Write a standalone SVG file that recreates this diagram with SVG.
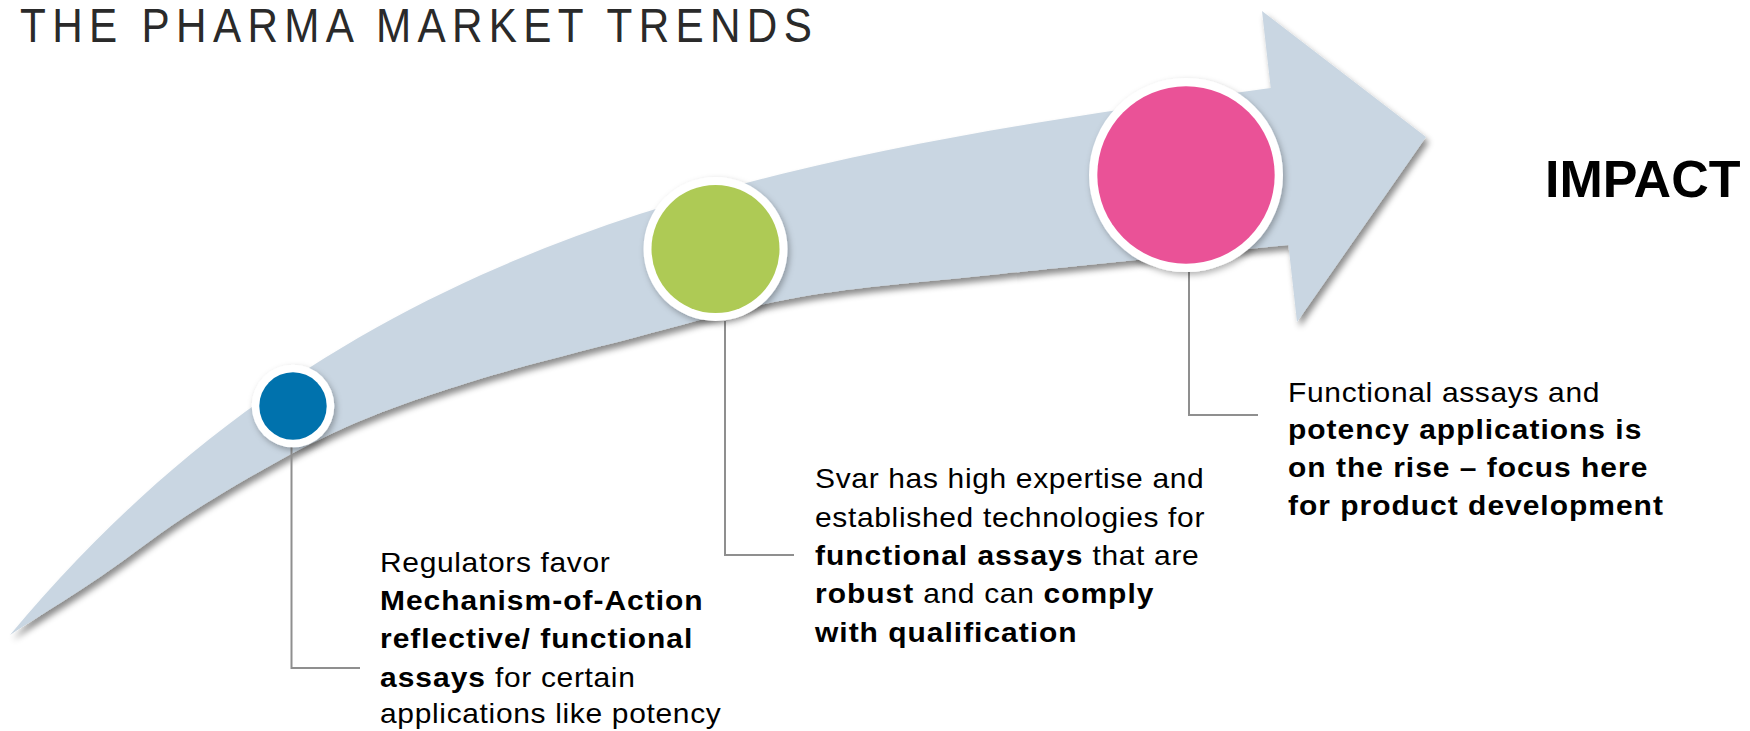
<svg xmlns="http://www.w3.org/2000/svg" width="1750" height="731" viewBox="0 0 1750 731">
<defs>
<style>
.title{font-family:"Liberation Sans",Arial,sans-serif;font-size:48px;fill:#2a2a2a;letter-spacing:7.2px}
.impact{font-family:"Liberation Sans",Arial,sans-serif;font-size:52px;font-weight:bold;fill:#000}
.body{font-family:"Liberation Sans",Arial,sans-serif;font-size:27px;fill:#000;letter-spacing:0.6px}
.b{font-weight:bold;letter-spacing:0.9px}
.conn{fill:none;stroke:#8f8f8f;stroke-width:2}
.ring{fill:#fff}
</style>
<filter id="shadow" x="-5%" y="-5%" width="115%" height="120%">
<feDropShadow dx="3" dy="5" stdDeviation="3" flood-color="#000" flood-opacity="0.45"/>
</filter>
<filter id="cshadow" x="-20%" y="-20%" width="150%" height="150%">
<feDropShadow dx="2" dy="3" stdDeviation="3" flood-color="#000" flood-opacity="0.3"/>
</filter>
</defs>
<rect width="1750" height="731" fill="#fff"/>
<text class="title" transform="translate(20 41.7) scale(0.88 1)" x="0" y="0">THE PHARMA MARKET TRENDS</text>
<g id="arrow">
<path filter="url(#shadow)" fill="#C9D6E2" d="M10,635 C350,227 770,158 1270.7,88 L1262,11 L1426,137 L1297,322 L1288.4,245 C1240,249.8 1081.3,265.3 1000,274 C918.7,282.7 861.2,286.3 800,297 C738.8,307.7 688.5,323.7 633,338 C577.5,352.3 517,367.2 467,383 C417,398.8 377.5,412.3 333,433 C288.5,453.7 238.8,483 200,507 C161.2,531 131.7,555.7 100,577 C68.3,598.3 25,625.3 10,635 Z"/>
</g>
<g id="connectors">
<polyline class="conn" points="291.5,447 291.5,668 360,668"/>
<polyline class="conn" points="725,321 725,555 794,555"/>
<polyline class="conn" points="1189,272 1189,415 1258,415"/>
</g>
<g id="node-blue">
<circle class="ring" cx="293" cy="406" r="41.3" filter="url(#cshadow)"/>
<circle cx="293" cy="406" r="33.7" fill="#0072AD"/>
</g>
<g id="node-green">
<circle class="ring" cx="715.5" cy="249" r="72" filter="url(#cshadow)"/>
<circle cx="715.5" cy="249" r="64" fill="#AECA55"/>
</g>
<g id="node-pink">
<circle class="ring" cx="1186" cy="175" r="97" filter="url(#cshadow)"/>
<circle cx="1186" cy="175" r="88.7" fill="#EA5297"/>
</g>
<g id="label-impact">
<text class="impact" x="1545" y="197">IMPACT</text>
</g>
<g id="note-regulators" transform="translate(380 0) scale(1.11 1)">
<text class="body" x="0" y="571.7">Regulators favor</text>
<text class="body" x="0" y="610"><tspan class="b">Mechanism-of-Action</tspan></text>
<text class="body" x="0" y="648.3"><tspan class="b">reflective/ functional</tspan></text>
<text class="body" x="0" y="686.7"><tspan class="b">assays</tspan> for certain</text>
<text class="body" x="0" y="723.3">applications like potency</text>
</g>
<g id="note-svar" transform="translate(815 0) scale(1.11 1)">
<text class="body" x="0" y="488.3">Svar has high expertise and</text>
<text class="body" x="0" y="526.7">established technologies for</text>
<text class="body" x="0" y="565"><tspan class="b">functional assays</tspan> that are</text>
<text class="body" x="0" y="603.3"><tspan class="b">robust</tspan> and can <tspan class="b">comply</tspan></text>
<text class="body" x="0" y="641.7"><tspan class="b">with qualification</tspan></text>
</g>
<g id="note-functional" transform="translate(1288 0) scale(1.11 1)">
<text class="body" x="0" y="401.7">Functional assays and</text>
<text class="body" x="0" y="439.3"><tspan class="b">potency applications is</tspan></text>
<text class="body" x="0" y="476.7"><tspan class="b">on the rise – focus here</tspan></text>
<text class="body" x="0" y="515"><tspan class="b">for product development</tspan></text>
</g>
</svg>
